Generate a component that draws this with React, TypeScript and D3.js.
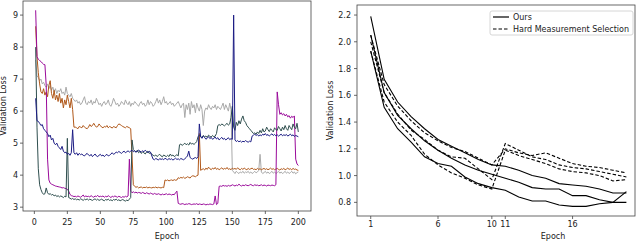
import * as d3 from "d3";

// left panel: five validation-loss runs, epochs 1..200
const grayRun = [
  7.6, 7.1, 7.05, 6.95, 7.0, 6.85, 6.9, 6.8, 6.75, 6.85,
  6.7, 6.8, 6.65, 6.75, 6.6, 6.7, 6.55, 6.65, 6.6, 6.7,
  6.55, 6.6, 6.5, 6.75, 6.55, 6.5, 6.45, 6.55, 6.4, 6.35,
  6.3, 6.35, 6.25, 6.3, 6.2, 6.25, 6.35, 6.45, 6.25, 6.2,
  6.3, 6.25, 6.35, 6.2, 6.3, 6.25, 6.4, 6.3, 6.2, 6.25,
  6.15, 6.25, 6.3, 6.2, 6.25, 6.35, 6.2, 6.15, 6.25, 6.4,
  6.3, 6.2, 6.25, 6.15, 6.2, 6.3, 6.25, 6.2, 6.35, 6.25,
  6.2, 6.3, 6.15, 6.25, 6.2, 6.3, 6.25, 6.2, 6.15, 6.25,
  6.3, 6.2, 6.25, 6.15, 6.2, 6.35, 6.2, 6.3, 6.25, 6.15,
  6.2, 6.3, 6.4, 6.25, 6.35, 6.2, 6.3, 6.45, 6.25, 6.3,
  6.2, 6.25, 6.3, 6.2, 6.25, 6.15, 6.2, 6.25, 6.3, 6.2,
  6.1, 6.2, 6.25, 5.8, 6.2, 6.05, 6.25, 5.9, 6.3, 6.1,
  6.2, 5.95, 6.25, 6.1, 6.0, 6.2, 6.05, 5.55, 6.0, 6.1,
  6.05, 6.2, 6.1, 6.05, 6.15, 6.1, 6.2, 6.05, 6.15, 6.1,
  6.05, 6.15, 6.25, 6.05, 6.2, 6.1, 6.0, 6.25, 6.05, 4.15,
  4.1, 4.05, 4.12, 4.08, 4.05, 4.1, 4.07, 4.12, 4.06, 4.1,
  4.08, 4.12, 4.06, 4.1, 4.05, 4.08, 4.12, 4.07, 4.1, 4.15,
  4.65, 4.1, 4.05, 4.08, 4.12, 4.06, 4.1, 4.05, 4.08, 4.12,
  4.06, 4.1, 4.05, 4.08, 4.12, 4.06, 4.1, 4.05, 4.08, 4.12,
  4.06, 4.1, 4.05, 4.08, 4.12, 4.06, 4.1, 4.04, 4.08, 4.1,
];
const orangeRun = [
  8.65, 7.7, 7.2, 6.85, 6.6, 6.55, 6.7, 6.5, 6.6, 6.45,
  6.8, 6.95, 6.55, 6.4, 6.65, 6.35, 6.5, 6.3, 6.55, 6.25,
  6.4, 6.1, 6.35, 6.2, 6.5, 6.3, 6.1, 6.4, 6.05, 5.5,
  5.5, 5.48, 5.45, 5.52, 5.5, 5.48, 5.55, 5.5, 5.47, 5.45,
  5.5, 5.58, 5.52, 5.55, 5.62, 5.55, 5.5, 5.52, 5.6, 5.55,
  5.5, 5.48, 5.52, 5.5, 5.55, 5.48, 5.52, 5.5, 5.47, 5.52,
  5.5, 5.48, 5.55, 5.6, 5.58, 5.55, 5.52, 5.5, 5.48, 5.52,
  5.5, 5.48, 5.45, 4.6, 3.7, 3.65, 3.62, 3.64, 3.6, 3.62,
  3.63, 3.6, 3.62, 3.61, 3.63, 3.6, 3.62, 3.61, 3.6, 3.62,
  3.61, 3.63, 3.6, 3.62, 3.61, 3.6, 3.62, 3.61, 3.85, 3.83,
  3.85, 3.82, 3.84, 3.85, 3.83, 3.86, 3.84, 3.85, 3.92, 3.9,
  3.93, 3.91, 3.94, 3.9, 3.92, 3.95, 3.93, 3.91, 3.96, 3.98,
  3.97, 3.95, 3.98, 4.0, 5.3, 4.15, 4.18, 4.2, 4.16, 4.22,
  4.18, 4.25, 4.2, 4.17, 4.22, 4.19, 4.24, 4.18, 4.21, 4.17,
  4.2, 4.23, 4.18, 4.21, 4.19, 4.24, 4.18, 4.2, 4.17, 4.22,
  4.19, 4.21, 4.18, 4.23, 4.19, 4.17, 4.21, 4.18, 4.22, 4.19,
  4.17, 4.21, 4.18, 4.2, 4.22, 4.18, 4.19, 4.17, 4.21, 4.18,
  4.2, 4.17, 4.19, 4.21, 4.18, 4.2, 4.17, 4.19, 4.22, 4.18,
  4.2, 4.17, 4.19, 4.21, 4.18, 4.16, 4.2, 4.18, 4.21, 4.17,
  4.19, 4.22, 4.18, 4.2, 4.17, 4.21, 4.18, 4.19, 4.16, 4.15,
];
const navyRun = [
  6.4, 5.7, 5.68, 5.62, 5.55, 5.58, 5.45, 5.4, 5.35, 5.3,
  5.2, 5.25, 5.1, 5.15, 5.0, 4.95, 5.0, 4.9, 4.85, 4.8,
  4.9, 4.75, 4.7, 4.72, 4.65, 4.68, 4.62, 4.7, 5.42, 4.7,
  4.65, 4.7, 4.62, 4.68, 4.64, 4.66, 4.62, 4.6, 4.65, 4.68,
  4.63, 4.6, 4.65, 4.58, 4.62, 4.66, 4.6, 4.58, 4.62, 4.65,
  4.6, 4.63, 4.58, 4.62, 4.65, 4.6, 4.62, 4.66, 4.7, 4.65,
  4.68, 4.72, 4.7, 4.74, 4.71, 4.68, 4.72, 4.75, 4.7, 4.73,
  4.76, 4.72, 4.75, 4.78, 4.73, 4.76, 4.72, 4.74, 4.78, 4.75,
  4.72, 4.76, 4.73, 4.78, 4.74, 4.7, 4.75, 4.72, 4.6, 4.5,
  4.48, 4.52, 4.5, 4.47, 4.52, 4.49, 4.51, 4.48, 4.53, 4.5,
  4.48, 4.52, 4.49, 4.51, 4.47, 4.5, 4.53, 4.49, 4.51, 4.48,
  4.52, 4.5, 4.48, 4.51, 4.55, 4.6, 4.75, 4.55, 4.52, 4.5,
  4.53, 4.55, 4.52, 4.58, 5.6, 5.2, 5.15, 5.22, 5.18, 5.12,
  5.16, 5.2, 5.14, 5.18, 5.12, 5.15, 5.19, 5.13, 5.17, 5.1,
  5.14, 5.18, 5.12, 5.15, 5.1, 5.13, 5.17, 5.11, 5.14, 5.12,
  9.0, 5.1, 5.05, 5.08, 5.04, 5.07, 5.03, 5.06, 5.04, 5.08,
  5.05, 5.03, 5.06, 5.04, 5.22, 5.25, 5.28, 5.24, 5.27, 5.22,
  5.26, 5.23, 5.28, 5.25, 5.3, 5.24, 5.27, 5.22, 5.26, 5.29,
  5.24, 5.27, 5.23, 5.26, 5.22, 5.25, 5.28, 5.23, 5.26, 5.24,
  5.27, 5.22, 5.25, 5.28, 5.23, 5.26, 5.21, 5.24, 5.22, 5.2,
];
const greenRun = [
  8.0, 5.5, 4.2, 3.7, 3.55, 3.45, 3.4, 3.42, 3.6, 3.45,
  3.4, 3.42, 3.38, 3.4, 3.35, 3.38, 3.33, 3.36, 3.32, 3.35,
  3.33, 3.3, 3.34, 3.32, 5.15, 3.3, 3.28, 3.25, 3.27, 3.24,
  3.26, 3.23, 3.25, 3.22, 3.26, 3.24, 3.21, 3.25, 3.23, 3.26,
  3.22, 3.25, 3.23, 3.21, 3.24, 3.26, 3.22, 3.25, 3.21, 3.23,
  3.25, 3.22, 3.2, 3.24, 3.22, 3.25, 3.21, 3.23, 3.2, 3.24,
  3.22, 3.25, 3.21, 3.23, 3.2, 3.22, 3.24, 3.21, 3.19, 3.22,
  3.2, 3.25, 3.3, 5.1, 4.8, 4.75, 4.72, 4.78, 4.7, 4.74,
  4.68, 4.72, 4.7, 4.66, 4.72, 4.75, 4.68, 4.7, 4.65, 4.62,
  4.6, 4.63, 4.58, 4.62, 4.65, 4.6, 4.57, 4.63, 4.6, 4.58,
  4.62, 4.58, 4.66, 4.6, 4.63, 4.58, 4.61, 4.64, 4.6, 4.95,
  4.97, 4.93, 4.96, 5.0, 4.95, 4.98, 4.94, 5.02, 4.97, 4.99,
  4.96, 5.0, 5.05, 5.2, 5.25, 5.2, 5.18, 5.24, 5.2, 5.22,
  5.18, 5.25, 5.21, 5.19, 5.24, 5.2, 5.22, 5.3, 5.55, 5.58,
  5.55, 5.6, 5.57, 5.54, 5.58, 5.62, 5.56, 5.6, 5.8, 6.15,
  5.5, 5.4, 5.65, 5.55, 5.7, 5.6, 5.75, 5.85, 5.7, 5.65,
  5.55, 5.5, 5.45, 5.4, 5.35, 5.3, 5.32, 5.28, 5.35, 5.3,
  5.4, 5.32, 5.45, 5.35, 5.38, 5.5, 5.42, 5.36, 5.45, 5.4,
  5.35, 5.48, 5.42, 5.4, 5.52, 5.45, 5.38, 5.5, 5.42, 5.55,
  5.45, 5.4, 5.55, 5.48, 5.42, 5.6, 5.5, 5.45, 5.62, 5.35,
];
const magentaRun = [
  9.15, 7.7, 7.62, 7.58, 7.55, 7.5, 7.46, 7.45, 6.8, 4.5,
  3.85, 3.75, 3.72, 3.7, 3.68, 3.66, 3.65, 3.64, 3.63, 3.62,
  3.6, 3.61, 3.59, 3.58, 3.56, 3.5, 3.4, 3.36, 3.35, 3.33,
  3.34, 3.32, 3.35, 3.33, 3.31, 3.34, 3.38, 3.32, 3.35, 3.33,
  3.34, 3.32, 3.36, 3.33, 3.31, 3.35, 3.33, 3.37, 3.32, 3.34,
  3.33, 3.35, 3.31, 3.34, 3.32, 3.36, 3.33, 3.3, 3.34, 3.32,
  3.35, 3.33, 3.31, 3.34, 3.32, 3.3, 3.33, 3.31, 3.34, 3.32,
  3.35, 4.5, 3.5, 3.45, 3.48, 3.45, 3.47, 3.44, 3.46, 3.45,
  3.43, 3.46, 3.44, 3.42, 3.45, 3.43, 3.41, 3.44, 3.42, 3.4,
  3.43, 3.41, 3.4, 3.42, 3.4, 3.38, 3.41, 3.39, 3.4, 3.42,
  3.39, 3.41, 3.4, 3.38, 3.4, 3.39, 3.45, 3.5, 3.12, 3.1,
  3.09, 3.11, 3.1, 3.08, 3.1, 3.09, 3.11, 3.1, 3.08, 3.09,
  3.1, 3.09, 3.11, 3.08, 3.1, 3.09, 3.08, 3.1, 3.09, 3.07,
  3.09, 3.08, 3.1, 3.09, 3.08, 3.1, 3.35, 3.08, 3.12, 3.65,
  3.66, 3.65, 3.68, 3.66, 3.67, 3.65, 3.68, 3.66, 3.67, 3.7,
  3.68, 3.66, 3.69, 3.67, 3.72, 3.68, 3.66, 3.69, 3.67, 3.7,
  3.68, 3.67, 3.69, 3.71, 3.68, 3.67, 3.7, 3.68, 3.69, 3.67,
  3.68, 3.7, 3.67, 3.69, 3.68, 3.66, 3.69, 3.68, 3.67, 3.69,
  3.68, 3.67, 3.7, 6.6, 6.2, 5.9, 5.95, 5.88, 5.92, 5.85,
  5.9, 5.82, 5.86, 5.78, 5.84, 5.8, 5.85, 4.5, 4.35, 4.3,
];
const leftRuns = [
  { values: grayRun, color: "#a9a9a9" },
  { values: orangeRun, color: "#b0581a" },
  { values: magentaRun, color: "#9a0a9a" },
  { values: greenRun, color: "#2f4f4f" },
  { values: navyRun, color: "#1c1c84" },
];
const leftXTicks = [0, 25, 50, 75, 100, 125, 150, 175, 200];
const leftYTicks = [3, 4, 5, 6, 7, 8, 9];

// right panel: epochs 1..20, three runs per method
const oursRuns = [
  [2.19, 1.72, 1.55, 1.44, 1.35, 1.27, 1.22, 1.17, 1.12, 1.08, 1.07, 1.04, 1.0, 0.98, 0.94, 0.93, 0.92, 0.9, 0.87, 0.87],
  [2.05, 1.62, 1.45, 1.35, 1.26, 1.19, 1.13, 1.08, 1.04, 1.01, 0.98, 0.95, 0.91, 0.9, 0.9, 0.85, 0.85, 0.82, 0.8, 0.88],
  [1.93, 1.51, 1.35, 1.25, 1.14, 1.09, 1.07, 0.99, 0.94, 0.91, 0.89, 0.84, 0.81, 0.81, 0.78, 0.77, 0.77, 0.79, 0.8, 0.8],
];
const hardRuns = [
  [2.05, 1.68, 1.52, 1.41, 1.32, 1.26, 1.21, 1.18, 1.13, 1.08, 1.2, 1.17, 1.15, 1.17, 1.13, 1.09, 1.07, 1.06, 1.04, 1.02],
  [2.0, 1.62, 1.46, 1.34, 1.27, 1.19, 1.14, 1.13, 1.05, 0.97, 1.24, 1.19, 1.14, 1.12, 1.08, 1.06, 1.05, 1.03, 1.01, 0.99],
  [1.93, 1.55, 1.4, 1.3, 1.16, 1.08, 1.02, 0.98, 0.93, 0.9, 1.19, 1.15, 1.12, 1.09, 1.05, 1.03, 1.02, 1.0, 0.96, 0.97],
];
const rightXTicks = [1, 6, 10, 11, 16];
const rightYTicks = [0.8, 1.0, 1.2, 1.4, 1.6, 1.8, 2.0, 2.2];
const legendLabels = ["Ours", "Hard Measurement Selection"];

const font = "DejaVu Sans, sans-serif";
const ink = "#222";

export default function App() {
  // left axes box
  const L = { x0: 23, x1: 311, y0: 1, y1: 211 };
  const lx = d3.scaleLinear().domain([-8.6, 209.6]).range([L.x0, L.x1]);
  const ly = d3.scaleLinear().domain([2.88, 9.44]).range([L.y1, L.y0]);
  const leftLine = d3
    .line<number>()
    .x((_, i) => lx(i + 1))
    .y((d) => ly(d));

  // right axes box
  const R = { x0: 357, x1: 635, y0: 5, y1: 216 };
  const rx = d3.scaleLinear().domain([-0.02, 20.64]).range([R.x0, R.x1]);
  const ry = d3.scaleLinear().domain([0.698, 2.275]).range([R.y1, R.y0]);
  const rightLine = d3
    .line<number>()
    .x((_, i) => rx(i + 1))
    .y((d) => ry(d));

  return (
    <svg
      width={640}
      height={241}
      style={{ position: "absolute", left: 0, top: 0, background: "#fff" }}
      fontFamily={font}
    >
      <defs>
        <clipPath id="clipL">
          <rect x={L.x0} y={L.y0} width={L.x1 - L.x0} height={L.y1 - L.y0} />
        </clipPath>
        <clipPath id="clipR">
          <rect x={R.x0} y={R.y0} width={R.x1 - R.x0} height={R.y1 - R.y0} />
        </clipPath>
      </defs>

      {/* left chart */}
      <g clipPath="url(#clipL)">
        {leftRuns.map((r, i) => (
          <path key={i} d={leftLine(r.values) || ""} fill="none" stroke={r.color} strokeWidth={1} />
        ))}
      </g>
      <rect x={L.x0} y={L.y0} width={L.x1 - L.x0} height={L.y1 - L.y0} fill="none" stroke="#444" strokeWidth={0.8} />
      {leftXTicks.map((t) => (
        <g key={t}>
          <line x1={lx(t)} x2={lx(t)} y1={L.y1} y2={L.y1 + 3} stroke="#444" strokeWidth={0.8} />
          <text x={lx(t)} y={L.y1 + 14} fontSize={8} textAnchor="middle" fill={ink}>{t}</text>
        </g>
      ))}
      {leftYTicks.map((t) => (
        <g key={t}>
          <line x1={L.x0 - 3} x2={L.x0} y1={ly(t)} y2={ly(t)} stroke="#444" strokeWidth={0.8} />
          <text x={L.x0 - 5} y={ly(t) + 3} fontSize={8} textAnchor="end" fill={ink}>{t}</text>
        </g>
      ))}
      <text x={(L.x0 + L.x1) / 2} y={239} fontSize={8} textAnchor="middle" fill={ink}>Epoch</text>
      <text transform={`translate(6,${(L.y0 + L.y1) / 2}) rotate(-90)`} fontSize={8} textAnchor="middle" fill={ink}>
        Validation Loss
      </text>

      {/* right chart */}
      <g clipPath="url(#clipR)">
        {oursRuns.map((v, i) => (
          <path key={"o" + i} d={rightLine(v) || ""} fill="none" stroke="#000" strokeWidth={1.1} />
        ))}
        {hardRuns.map((v, i) => (
          <path key={"h" + i} d={rightLine(v) || ""} fill="none" stroke="#000" strokeWidth={1.1} strokeDasharray="3.5,2" />
        ))}
      </g>
      <rect x={R.x0} y={R.y0} width={R.x1 - R.x0} height={R.y1 - R.y0} fill="none" stroke="#444" strokeWidth={0.8} />
      {rightXTicks.map((t) => (
        <g key={t}>
          <line x1={rx(t)} x2={rx(t)} y1={R.y1} y2={R.y1 + 3} stroke="#444" strokeWidth={0.8} />
          <text x={rx(t)} y={R.y1 + 11} fontSize={8} textAnchor="middle" fill={ink}>{t}</text>
        </g>
      ))}
      {rightYTicks.map((t) => (
        <g key={t}>
          <line x1={R.x0 - 3} x2={R.x0} y1={ry(t)} y2={ry(t)} stroke="#444" strokeWidth={0.8} />
          <text x={R.x0 - 6} y={ry(t) + 3} fontSize={8} textAnchor="end" fill={ink}>{t.toFixed(1)}</text>
        </g>
      ))}
      <text x={553} y={239} fontSize={8} textAnchor="middle" fill={ink}>Epoch</text>
      <text transform={`translate(333,${(R.y0 + R.y1) / 2}) rotate(-90)`} fontSize={8} textAnchor="middle" fill={ink}>
        Validation Loss
      </text>

      {/* legend */}
      <rect x={490} y={11} width={143} height={24} rx={2} fill="#fff" stroke="#ccc" strokeWidth={0.8} />
      {legendLabels.map((lab, i) => (
        <g key={lab}>
          <line
            x1={493}
            x2={509}
            y1={17 + i * 12}
            y2={17 + i * 12}
            stroke="#000"
            strokeWidth={1.2}
            strokeDasharray={i === 1 ? "3.5,2" : undefined}
          />
          <text x={513} y={20 + i * 12} fontSize={8} fill={ink}>{lab}</text>
        </g>
      ))}
    </svg>
  );
}
